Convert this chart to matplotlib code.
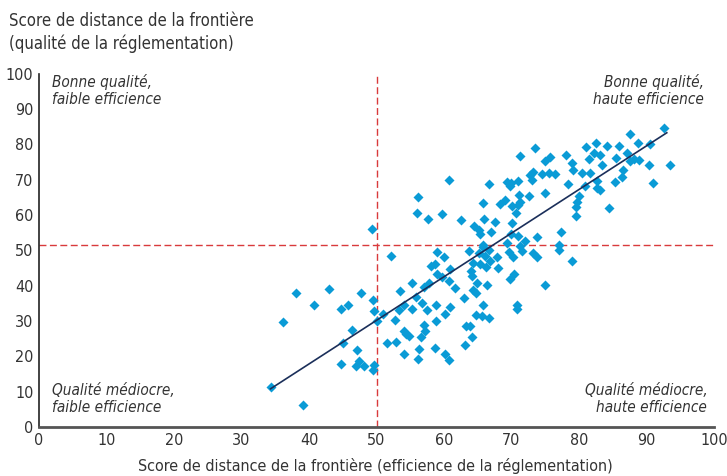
import matplotlib
matplotlib.use('Agg')
import matplotlib.pyplot as plt

# points (efficience, qualité)
eff = [34.3, 36.1, 38.1, 39.1, 40.7, 43.0, 44.7, 44.8, 45.1, 45.8,
       46.4, 47.0, 47.1, 47.4, 47.7, 48.1, 49.4, 49.5, 49.6, 49.6,
       49.5, 50.0, 51.0, 51.6, 52.2, 52.7, 52.9, 53.4, 53.5, 54.0,
       54.1, 54.1, 54.4, 54.8, 55.2, 55.2, 55.8, 56.0, 56.2, 56.1,
       56.3, 56.6, 56.7, 57.1, 57.1, 57.2, 57.5, 57.6, 57.8, 58.0,
       58.6, 58.6, 58.8, 58.8, 58.9, 59.0, 59.7, 59.7, 60.0, 60.1,
       60.1, 60.7, 60.7, 60.8, 60.9, 60.9, 61.6, 62.5, 63.0, 63.1,
       63.2, 63.7, 63.9, 64.0, 64.2, 64.2, 64.3, 64.3, 64.4, 64.7,
       64.7, 64.9, 65.2, 65.2, 65.4, 65.4, 65.6, 65.7, 65.7, 65.7,
       65.8, 65.9, 66.1, 66.2, 66.4, 66.6, 66.6, 66.6, 66.8, 67.0,
       67.5, 67.9, 68.0, 68.3, 69.1, 69.3, 69.4, 69.6, 69.7, 69.7,
       69.9, 69.9, 70.0, 70.1, 70.2, 70.4, 70.6, 70.8, 70.8, 70.9,
       70.9, 71.0, 71.1, 71.3, 71.3, 71.3, 71.6, 72.0, 72.6, 72.7,
       73.1, 73.2, 73.2, 73.5, 73.7, 73.7, 74.5, 74.9, 74.9, 75.0,
       75.5, 75.7, 76.4, 77.1, 77.1, 77.3, 78.0, 78.4, 78.9, 79.0,
       79.1, 79.6, 79.6, 79.7, 80.0, 80.5, 80.9, 81.1, 81.5, 81.6,
       82.2, 82.5, 82.6, 82.7, 83.1, 83.1, 83.4, 84.2, 84.5, 85.3,
       85.5, 85.9, 86.3, 86.5, 87.1, 87.5, 87.5, 88.1, 88.7, 88.9,
       90.3, 90.5, 90.9, 92.6, 93.5]
qual = [11.4, 29.7, 38.0, 6.2, 34.5, 39.1, 17.9, 33.4, 23.9, 34.5,
        27.4, 17.4, 21.7, 18.8, 37.9, 17.3, 56.0, 36.0, 32.9, 17.5,
        16.0, 30.0, 31.9, 23.9, 48.4, 30.2, 24.1, 33.1, 38.4, 34.4,
        20.8, 27.1, 26.4, 25.8, 40.7, 33.3, 36.8, 60.5, 65.1, 19.3,
        22.0, 25.6, 35.0, 39.5, 29.0, 27.2, 33.0, 58.8, 40.9, 45.7,
        46.2, 22.3, 34.6, 30.0, 43.3, 49.4, 42.6, 60.2, 48.1, 20.8,
        31.9, 19.0, 69.8, 41.2, 44.7, 34.1, 39.3, 58.6, 36.5, 23.3,
        28.6, 49.8, 28.6, 44.3, 42.8, 25.6, 38.8, 46.3, 56.9, 38.0,
        31.7, 40.7, 55.8, 49.2, 54.6, 46.1, 31.4, 63.5, 51.6, 34.5,
        50.9, 58.8, 48.5, 45.2, 40.2, 68.9, 50.1, 30.8, 47.1, 55.2,
        58.0, 48.1, 45.0, 63.0, 64.3, 69.5, 52.2, 49.4, 68.3, 41.8,
        69.2, 54.7, 62.7, 57.7, 48.1, 43.4, 60.6, 34.6, 33.3, 62.8,
        54.1, 69.7, 65.8, 76.6, 63.7, 51.3, 49.9, 52.6, 65.5, 71.2,
        70.0, 72.3, 49.2, 78.9, 53.9, 48.1, 71.6, 75.4, 40.2, 66.2,
        71.8, 76.3, 71.6, 51.6, 50.0, 55.1, 77.0, 68.7, 74.7, 47.0,
        72.8, 62.4, 59.8, 63.8, 65.4, 71.8, 68.1, 79.4, 76.0, 71.8,
        77.5, 80.3, 67.6, 69.7, 77.0, 67.1, 74.3, 79.6, 62.1, 69.4,
        76.2, 79.6, 70.8, 72.8, 77.7, 82.9, 75.4, 76.0, 80.5, 75.6,
        74.2, 80.2, 69.0, 84.6, 74.1]

# fitted line end points as drawn on the chart
fit_x = [34.3, 93.0]
fit_y = [10.8, 83.3]

# quadrant thresholds
eff_cut = 50
qual_cut = 51.5

plt.rcParams['font.family'] = ['DejaVu Sans']
plt.rcParams['font.stretch'] = 'condensed'
txt = '#333333'

fig = plt.figure(figsize=(7.27, 4.76), dpi=100)
ax = fig.add_axes([0.0536, 0.103, 0.9286, 0.742])

ax.scatter(eff, qual, marker='D', s=26, color='#0a9bd6', linewidths=0, zorder=3)
ax.plot(fit_x, fit_y, color='#1b2f5a', lw=1.2, zorder=4)
ax.axvline(eff_cut, color='#d93a3c', ls=(0, (5, 2.5)), lw=1, zorder=2)
ax.axhline(qual_cut, color='#d93a3c', ls=(0, (5, 2.5)), lw=1, zorder=2)

ax.set_xlim(0, 100)
ax.set_ylim(0, 100)
ax.set_xticks(range(0, 101, 10))
ax.set_yticks(range(0, 101, 10))
ax.tick_params(length=0, labelsize=11.5, colors=txt, pad=4)
for s in ['top', 'right']:
    ax.spines[s].set_visible(False)
ax.spines['left'].set_color('#222222')
ax.spines['left'].set_linewidth(1.2)
ax.spines['bottom'].set_color('#555555')
ax.spines['bottom'].set_linewidth(2)

# quadrant captions
ax.text(2, 100, 'Bonne qualité,\nfaible efficience', style='italic', fontsize=11,
        color=txt, va='top', ha='left', linespacing=1.15)
ax.text(98.5, 100, 'Bonne qualité,\nhaute efficience', style='italic', fontsize=11,
        color=txt, va='top', ha='right', linespacing=1.15)
ax.text(2, 12.5, 'Qualité médiocre,\nfaible efficience', style='italic', fontsize=11,
        color=txt, va='top', ha='left', linespacing=1.15)
ax.text(99, 12.5, 'Qualité médiocre,\nhaute efficience', style='italic', fontsize=11,
        color=txt, va='top', ha='right', linespacing=1.15)

fig.text(0.012, 0.975, 'Score de distance de la frontière\n(qualité de la réglementation)',
         fontsize=12, color=txt, va='top', ha='left', linespacing=1.3)
fig.text(0.517, 0.005, 'Score de distance de la frontière (efficience de la réglementation)',
         fontsize=11.5, color=txt, va='bottom', ha='center')

plt.savefig('out.png', dpi=100)
plt.close()
